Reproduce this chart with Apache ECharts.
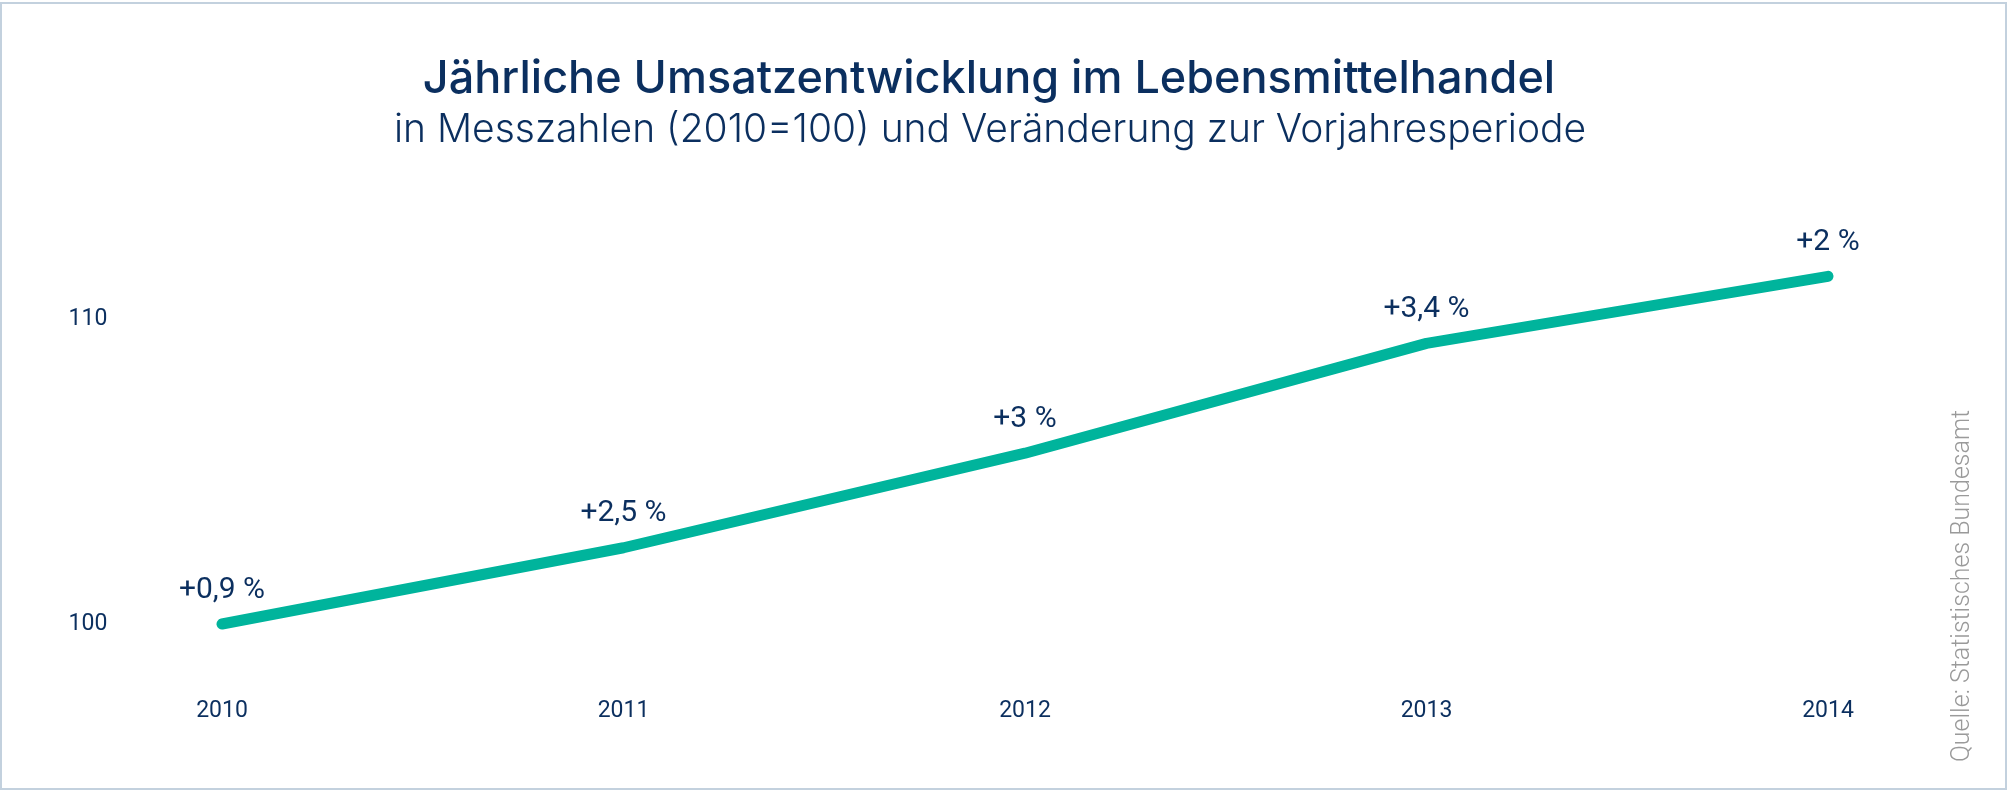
<!DOCTYPE html>
<html>
<head>
<meta charset="utf-8">
<title>Jährliche Umsatzentwicklung im Lebensmittelhandel</title>
<script src="https://cdn.jsdelivr.net/npm/echarts@6/dist/echarts.min.js"></script>
<style>
  html, body { margin: 0; padding: 0; background: #fff; }
  #chart { width: 2008px; height: 795px; }
</style>
</head>
<body>
<div id="chart"></div>
<script>
// data
const years = ['2010', '2011', '2012', '2013', '2014'];
const index = [100, 102.5, 105.6, 109.2, 111.4];
const changes = ['+0,9 %', '+2,5 %', '+3 %', '+3,4 %', '+2 %'];
const yTicks = [100, 110];

const navy = '#0b2f5f';
const teal = '#00b49c';

const chart = echarts.init(document.getElementById('chart'));

const option = {
  backgroundColor: '#fff',
  animation: false,
  graphic: [
    {
      type: 'rect',
      shape: { x: 1, y: 3, width: 2005, height: 786 },
      style: { fill: 'none', stroke: '#c3d1de', lineWidth: 2 }
    },
    {
      type: 'text',
      style: {
        text: 'Jährliche Umsatzentwicklung im Lebensmittelhandel',
        x: 989, y: 79,
        align: 'center', verticalAlign: 'middle',
        font: '500 45px Inter', fill: navy
      }
    },
    {
      type: 'text',
      style: {
        text: 'in Messzahlen (2010=100) und Veränderung zur Vorjahresperiode',
        x: 990, y: 130,
        align: 'center', verticalAlign: 'middle',
        font: '300 39px Inter', fill: navy
      }
    },
    {
      type: 'text',
      x: 1963, y: 586,
      rotation: Math.PI / 2,
      style: {
        text: 'Quelle: Statistisches Bundesamt',
        x: 0, y: 0,
        align: 'center', verticalAlign: 'middle',
        font: '300 25px Roboto', fill: '#9a9a9a'
      }
    }
  ],
  grid: { left: 222, right: 180, top: 227.5, bottom: 110 },
  xAxis: {
    type: 'category',
    data: years,
    boundaryGap: false,
    axisLine: { show: false },
    axisTick: { show: false },
    axisLabel: { margin: 15, color: navy, fontFamily: 'Roboto', fontSize: 23 }
  },
  yAxis: {
    type: 'value',
    min: 98,
    max: 113,
    interval: 1,
    splitLine: { show: false },
    axisLine: { show: false },
    axisTick: { show: false },
    axisLabel: {
      margin: 134,
      align: 'center',
      color: navy,
      fontFamily: 'Roboto',
      fontSize: 23,
      formatter: function (v) {
        return yTicks.indexOf(v) >= 0 ? String(v) : '';
      }
    }
  },
  series: [
    {
      type: 'line',
      data: index,
      symbol: 'circle',
      symbolSize: 2,
      itemStyle: { color: teal },
      lineStyle: { color: teal, width: 11, cap: 'round', join: 'round' },
      label: {
        show: true,
        position: 'top',
        distance: 18,
        color: navy,
        fontFamily: 'Roboto',
        fontSize: 30,
        formatter: function (p) {
          return changes[p.dataIndex];
        }
      }
    }
  ]
};

chart.setOption(option);
window.addEventListener('resize', function () {
  chart.resize();
});
</script>
</body>
</html>
